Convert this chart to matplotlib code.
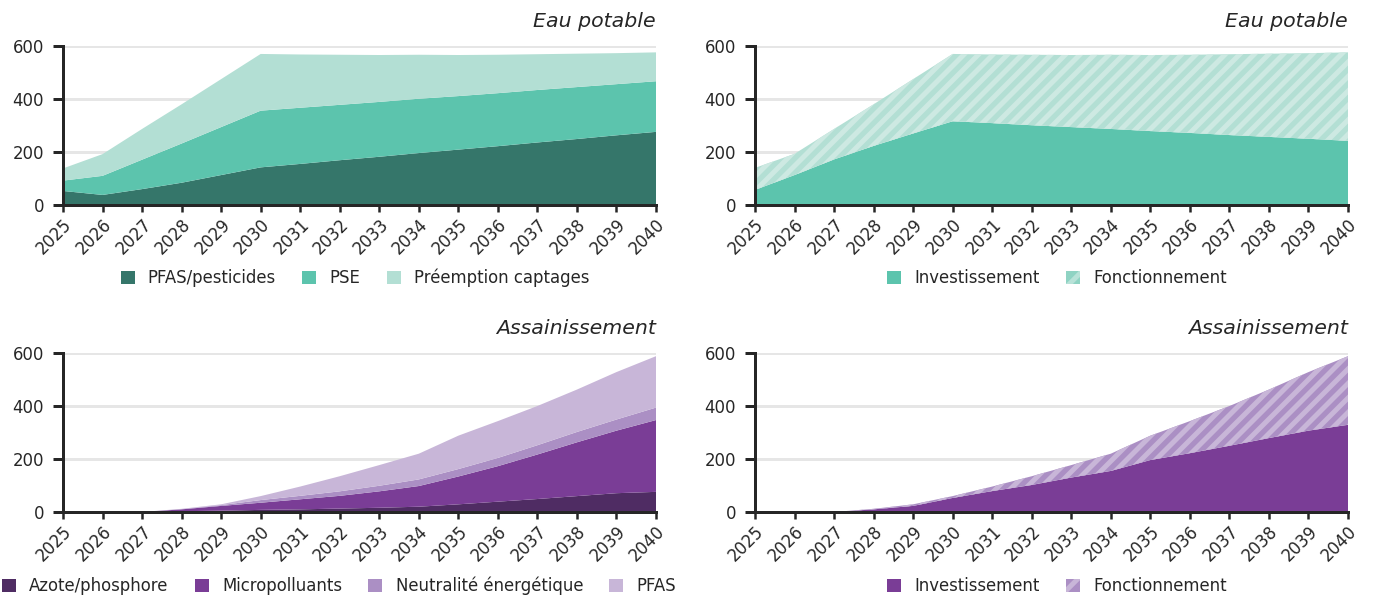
import matplotlib
matplotlib.use("Agg")
import matplotlib.pyplot as plt
from matplotlib.patches import Patch
from matplotlib.collections import LineCollection
from matplotlib.transforms import IdentityTransform
import numpy as np

# ---------------- data ----------------
years = list(range(2025, 2041))
year_labels = [str(y) for y in years]
y_ticks = [0, 200, 400, 600]

ep_pfas_pesticides = [53, 38, 60, 84, 113, 142, 155, 169, 182, 196, 209, 222, 236, 249, 263, 276]
ep_pse = [39, 72, 111, 148, 181, 214, 212, 209, 207, 205, 202, 200, 198, 196, 193, 191]
ep_preemption = [46, 82, 116, 148, 181, 214, 201, 189, 177, 166, 155, 145, 135, 126, 117, 109]

ep_invest = [57, 113, 172, 223, 270, 316, 309, 301, 294, 287, 279, 272, 264, 257, 250, 242]
ep_fonct = [83, 80, 115, 157, 205, 254, 259, 266, 272, 280, 287, 295, 305, 314, 323, 334]

as_azote = [0, 0, 0, 3, 5, 8, 10, 13, 16, 20, 29, 39, 49, 60, 71, 76]
as_micro = [0, 0, 0, 7, 18, 27, 38, 48, 62, 78, 105, 134, 168, 203, 236, 271]
as_neutral = [0, 0, 0, 1, 3, 10, 13, 17, 21, 25, 28, 31, 35, 39, 42, 47]
as_pfas = [0, 0, 0, 1, 3, 15, 35, 57, 78, 97, 126, 139, 148, 160, 179, 194]

as_invest = [0, 0, 0, 10, 23, 53, 79, 102, 130, 155, 196, 222, 250, 279, 307, 329]
as_fonct = [0, 0, 0, 2, 6, 7, 17, 33, 47, 65, 92, 121, 150, 183, 221, 259]

title_ep = "Eau potable"
title_as = "Assainissement"
labels_ep = ["PFAS/pesticides", "PSE", "Préemption captages"]
labels_as = ["Azote/phosphore", "Micropolluants", "Neutralité énergétique", "PFAS"]
labels_split = ["Investissement", "Fonctionnement"]

# ---------------- style ----------------
DPI = 140
W, H = 1379, 598


def pt(px):
    return px * 72.0 / DPI


plt.rcParams["font.family"] = ["DejaVu Sans"]
plt.rcParams["hatch.linewidth"] = pt(5)

teal_dark = "#35766a"
teal_mid = "#5cc4ad"
teal_light = "#b3dfd4"
teal_stripe = "#cde9e2"
purple_dark = "#4f2c63"
purple_mid = "#7a3d96"
purple_neut = "#ab8fc4"
purple_light = "#c8b6d8"
ink = "#262626"
grid_c = "#e6e6e6"

fig = plt.figure(figsize=(W / DPI, H / DPI), dpi=DPI)
fig.patch.set_facecolor("white")

AX_W, AX_H = 593, 159


def make_ax(left_px, top_px, title):
    ax = fig.add_axes([left_px / W, 1 - (top_px + AX_H) / H, AX_W / W, AX_H / H])
    ax.set_xlim(years[0], years[-1])
    ax.set_ylim(0, 600)
    ax.set_axisbelow(True)
    ax.yaxis.grid(True, color=grid_c, linewidth=pt(3))
    ax.xaxis.grid(False)
    for s in ["top", "right"]:
        ax.spines[s].set_visible(False)
    for s in ["left", "bottom"]:
        ax.spines[s].set_color(ink)
        ax.spines[s].set_linewidth(pt(3))
        ax.spines[s].set_zorder(5)
    ax.set_yticks(y_ticks)
    ax.set_yticklabels([str(v) for v in y_ticks])
    ax.set_xticks(years)
    ax.set_xticklabels(year_labels, rotation=45, ha="right", va="top",
                       rotation_mode="anchor")
    ax.tick_params(axis="y", length=pt(10), width=pt(3), color=ink, pad=pt(9),
                   labelsize=pt(16.5), labelcolor=ink)
    ax.tick_params(axis="x", length=pt(7), width=pt(2.5), color=ink, pad=pt(3),
                   labelsize=pt(16.5), labelcolor=ink)
    ax.set_title(title, loc="right", fontstyle="italic", fontsize=pt(20.5),
                 color=ink, pad=pt(19))
    return ax


def stack(ax, series, colors):
    base = np.zeros(len(years))
    for vals, c in zip(series, colors):
        top = base + np.array(vals)
        ax.fill_between(years, base, top, facecolor=c, linewidth=0, zorder=2)
        base = top


def stripes(ax, poly, color, period_px=14.5, width_px=5.0):
    # diagonal texture clipped to the filled area
    bb = ax.bbox
    h = bb.height
    segs = []
    k = bb.x0 - h - period_px
    while k < bb.x1 + period_px:
        segs.append([(k, bb.y0), (k + h, bb.y1)])
        k += period_px
    lc = LineCollection(segs, colors=color, linewidths=pt(width_px),
                        transform=IdentityTransform(), zorder=3)
    lc.set_clip_path(poly.get_paths()[0], ax.transData)
    ax.add_collection(lc, autolim=False)


def split(ax, invest, fonct, c_inv, c_face, c_stripe):
    inv = np.array(invest)
    tot = inv + np.array(fonct)
    ax.fill_between(years, 0, inv, facecolor=c_inv, linewidth=0, zorder=2)
    poly = ax.fill_between(years, inv, tot, facecolor=c_face, linewidth=0, zorder=2)
    stripes(ax, poly, c_stripe)
    ax.set_xlim(years[0], years[-1])
    ax.set_ylim(0, 600)


def legend(ax, handles, labels, cx_px, cy_px):
    ax.legend(handles, labels, loc="center",
              bbox_to_anchor=(cx_px / W, 1 - cy_px / H),
              bbox_transform=fig.transFigure, ncol=len(labels), frameon=False,
              fontsize=pt(16.5), handlelength=0.85, handleheight=0.85,
              handletextpad=0.8, columnspacing=1.6, labelcolor=ink,
              borderaxespad=0, borderpad=0)


# top-left
ax1 = make_ax(63, 46, title_ep)
stack(ax1, [ep_pfas_pesticides, ep_pse, ep_preemption], [teal_dark, teal_mid, teal_light])
legend(ax1, [Patch(facecolor=c, linewidth=0) for c in [teal_dark, teal_mid, teal_light]],
       labels_ep, 355, 278)

# top-right
ax2 = make_ax(755, 46, title_ep)
split(ax2, ep_invest, ep_fonct, teal_mid, teal_light, teal_stripe)
legend(ax2, [Patch(facecolor=teal_mid, linewidth=0),
             Patch(facecolor="#8fd3c3", edgecolor="#b8e2d8", hatch="//", linewidth=0)],
       labels_split, 1057, 278)

# bottom-left
ax3 = make_ax(63, 353, title_as)
stack(ax3, [as_azote, as_micro, as_neutral, as_pfas],
      [purple_dark, purple_mid, purple_neut, purple_light])
legend(ax3, [Patch(facecolor=c, linewidth=0)
             for c in [purple_dark, purple_mid, purple_neut, purple_light]],
       labels_as, 339, 586)

# bottom-right
ax4 = make_ax(755, 353, title_as)
split(ax4, as_invest, as_fonct, purple_mid, purple_neut, purple_light)
legend(ax4, [Patch(facecolor=purple_mid, linewidth=0),
             Patch(facecolor=purple_neut, edgecolor=purple_light, hatch="//", linewidth=0)],
       labels_split, 1057, 586)

fig.savefig("out.png", dpi=DPI, facecolor="white")
